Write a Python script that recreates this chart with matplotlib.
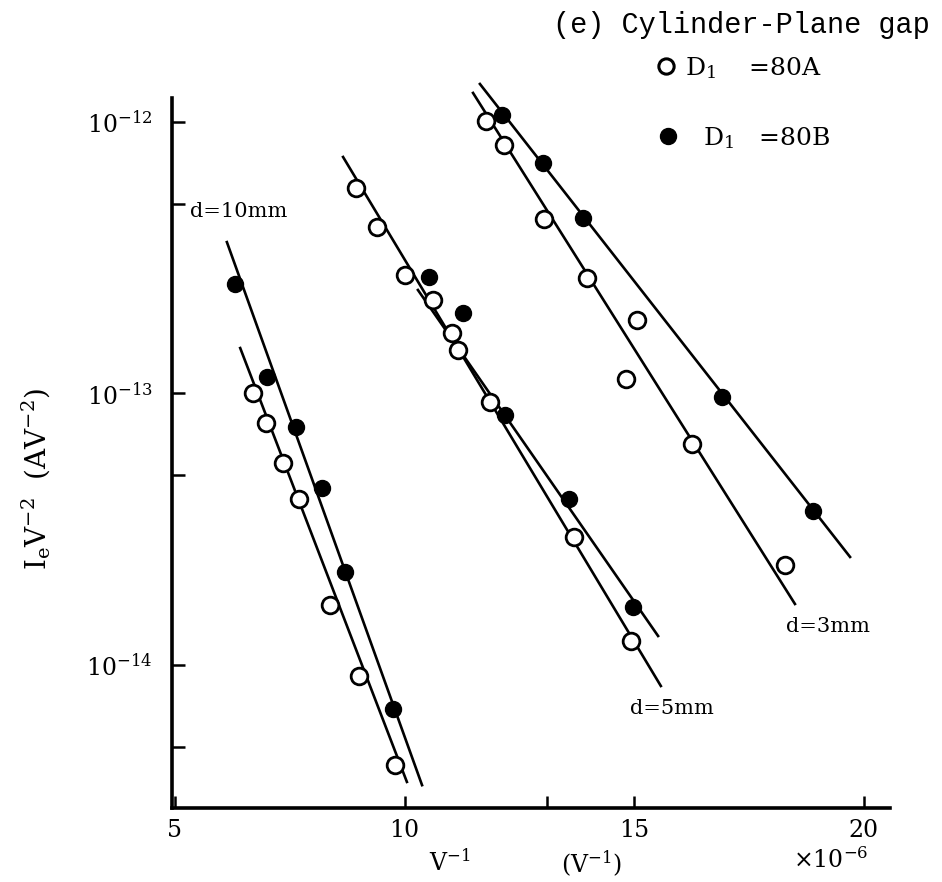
import matplotlib
matplotlib.use("Agg")
import matplotlib.pyplot as plt
from matplotlib.ticker import FixedLocator, FixedFormatter, NullFormatter

plt.rcParams["font.family"] = ["DejaVu Serif"]
plt.rcParams["mathtext.fontset"] = "dejavuserif"

# Inverse voltage (x 1e-6 V^-1) against Ie/V^2 (A V^-2)
# gap d = 10 mm
d10_a_x = [6.70, 6.98, 7.35, 7.70, 8.38, 9.01, 9.79]
d10_a_y = [1.00e-13, 7.8e-14, 5.55e-14, 4.1e-14, 1.66e-14, 9.1e-15, 4.3e-15]
d10_b_x = [6.31, 7.00, 7.64, 8.20, 8.70, 9.75]
d10_b_y = [2.53e-13, 1.15e-13, 7.5e-14, 4.5e-14, 2.2e-14, 6.9e-15]
# gap d = 5 mm
d5_a_x = [8.94, 9.40, 10.01, 10.62, 11.03, 11.16, 11.86, 13.69, 14.93]
d5_a_y = [5.71e-13, 4.11e-13, 2.73e-13, 2.21e-13, 1.67e-13, 1.45e-13, 9.3e-14, 2.96e-14, 1.23e-14]
d5_b_x = [10.53, 11.27, 12.19, 13.58, 14.97]
d5_b_y = [2.69e-13, 1.98e-13, 8.33e-14, 4.09e-14, 1.64e-14]
# gap d = 3 mm
d3_a_x = [11.77, 12.17, 13.04, 13.97, 15.06, 14.82, 16.26, 18.28]
d3_a_y = [1.01e-12, 8.23e-13, 4.39e-13, 2.66e-13, 1.865e-13, 1.13e-13, 6.52e-14, 2.34e-14]
d3_b_x = [12.12, 13.01, 13.89, 16.91, 18.89]
d3_b_y = [1.06e-12, 7.06e-13, 4.43e-13, 9.71e-14, 3.69e-14]

# straight-line fits (end points)
d10_a_fit_x = [6.42, 10.05]
d10_a_fit_y = [1.47e-13, 3.71e-15]
d10_b_fit_x = [6.13, 10.38]
d10_b_fit_y = [3.61e-13, 3.61e-15]
d5_a_fit_x = [8.66, 15.58]
d5_a_fit_y = [7.43e-13, 8.37e-15]
d5_b_fit_x = [10.29, 15.52]
d5_b_fit_y = [2.405e-13, 1.279e-14]
d3_a_fit_x = [11.49, 18.50]
d3_a_fit_y = [1.279e-12, 1.678e-14]
d3_b_fit_x = [11.64, 19.70]
d3_b_fit_y = [1.38e-12, 2.50e-14]

x_ticks = [5, 10, 15, 20]
x_tick_labels = ["5", "10", "15", "20"]
y_ticks = [1e-14, 1e-13, 1e-12]
y_tick_labels = [r"$10^{-14}$", r"$10^{-13}$", r"$10^{-12}$"]
y_minor_ticks = [5e-15, 5e-14, 5e-13]

fig = plt.figure(figsize=(9.42, 8.82), dpi=100)
ax = fig.add_axes([0.1826, 0.0839, 0.7622, 0.8050])
ax.set_yscale("log")
ax.set_xlim(4.935, 20.57)
ax.set_ylim(2.974e-15, 1.2254e-12)

line_kw = dict(color="black", lw=1.9, clip_on=False, zorder=2)
open_kw = dict(ls="none", marker="o", ms=12, mfc="white", mec="black", mew=2.0, zorder=3, clip_on=False)
fill_kw = dict(ls="none", marker="o", ms=11.5, mfc="black", mec="black", zorder=4, clip_on=False)

for fx, fy in [(d10_a_fit_x, d10_a_fit_y), (d10_b_fit_x, d10_b_fit_y),
               (d5_a_fit_x, d5_a_fit_y), (d5_b_fit_x, d5_b_fit_y),
               (d3_a_fit_x, d3_a_fit_y), (d3_b_fit_x, d3_b_fit_y)]:
    ax.plot(fx, fy, **line_kw)

for xs, ys in [(d10_a_x, d10_a_y), (d5_a_x, d5_a_y), (d3_a_x, d3_a_y)]:
    ax.plot(xs, ys, **open_kw)
for xs, ys in [(d10_b_x, d10_b_y), (d5_b_x, d5_b_y), (d3_b_x, d3_b_y)]:
    ax.plot(xs, ys, **fill_kw)

# axes frame
for s in ("top", "right"):
    ax.spines[s].set_visible(False)
for s in ("left", "bottom"):
    ax.spines[s].set_linewidth(2.6)

ax.xaxis.set_major_locator(FixedLocator(x_ticks))
ax.xaxis.set_major_formatter(FixedFormatter(x_tick_labels))
ax.xaxis.set_minor_locator(FixedLocator([13.1]))
ax.yaxis.set_major_locator(FixedLocator(y_ticks))
ax.yaxis.set_major_formatter(FixedFormatter(y_tick_labels))
ax.yaxis.set_minor_locator(FixedLocator(y_minor_ticks))
ax.yaxis.set_minor_formatter(NullFormatter())
ax.tick_params(axis="both", which="both", direction="in", length=9, width=1.8, labelsize=17)
ax.tick_params(axis="x", pad=8)
ax.tick_params(axis="y", pad=14)

# curve annotations
ax.text(5.33, 10**-12.35, "d=10mm", fontsize=15, ha="left", va="baseline")
ax.text(14.90, 10**-14.18, "d=5mm", fontsize=15, ha="left", va="baseline")
ax.text(18.30, 10**-13.88, "d=3mm", fontsize=15, ha="left", va="baseline")

# header and key
fig.text(553 / 942, 1 - 33 / 882, "(e) Cylinder-Plane gap", fontsize=20.6,
         family="Liberation Mono", ha="left", va="baseline")
fig.lines.append(plt.Line2D([666 / 942], [1 - 66 / 882], transform=fig.transFigure,
                            ls="none", marker="o", ms=11, mfc="white", mec="black", mew=2.2))
fig.lines.append(plt.Line2D([668 / 942], [1 - 136 / 882], transform=fig.transFigure,
                            ls="none", marker="o", ms=11.5, mfc="black", mec="black"))
fig.text(685 / 942, 1 - 75 / 882, r"D$_1$    =80A", fontsize=18, ha="left", va="baseline")
fig.text(703 / 942, 1 - 145 / 882, r"D$_1$   =80B", fontsize=18, ha="left", va="baseline")

# axis titles
fig.text(36 / 942, 1 - 479 / 882, r"I$_{\rm e}$V$^{-2}$  (AV$^{-2}$)", fontsize=20,
         rotation=90, ha="center", va="center")
fig.text(450 / 942, 1 - 862 / 882, r"V$^{-1}$", fontsize=17, ha="center", va="center")
fig.text(591 / 942, 1 - 864 / 882, r"(V$^{-1}$)", fontsize=17, ha="center", va="center")
fig.text(831 / 942, 1 - 860 / 882, r"$\times$10$^{-6}$", fontsize=17, ha="center", va="center")

fig.savefig("out.png", dpi=100)
